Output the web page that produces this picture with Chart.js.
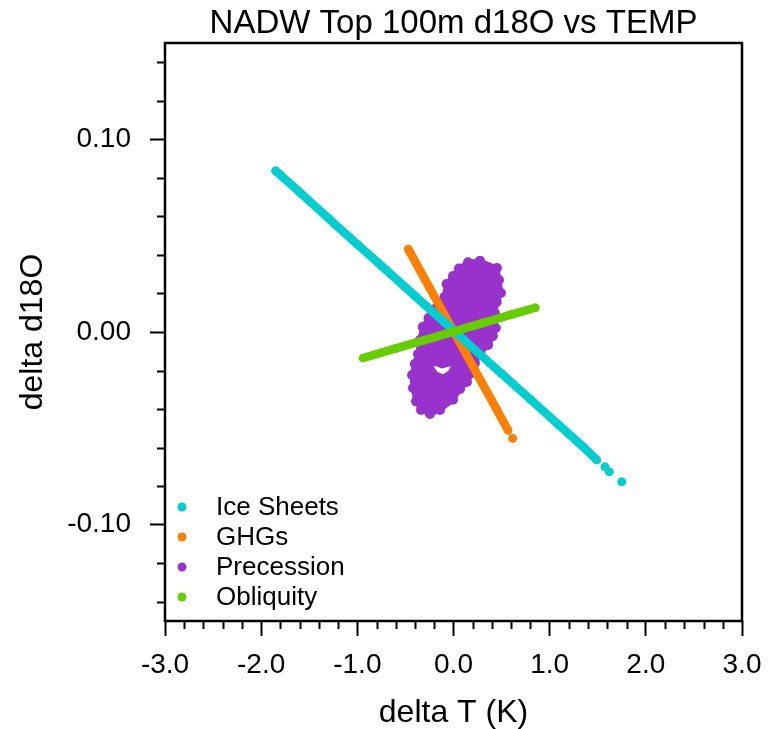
<!DOCTYPE html>
<html>
<head>
<meta charset="utf-8">
<title>NADW Top 100m d18O vs TEMP</title>
<script src="https://cdn.jsdelivr.net/npm/chart.js@4.4.1/dist/chart.umd.min.js"></script>
<style>
  html, body { margin: 0; padding: 0; background: #fff; }
  #wrap { width: 775px; height: 729px; }
</style>
</head>
<body>
<div id="wrap"><canvas id="chart" width="775" height="729"></canvas></div>
<script>
// values
const titleText = 'NADW Top 100m d18O vs TEMP';
const xTitle = 'delta T (K)';
const yTitle = 'delta d18O';

const seriesNames = ['Ice Sheets', 'GHGs', 'Precession', 'Obliquity'];
const seriesColors = ['#00CED1', '#FF7F00', '#9932CC', '#66CD00'];

// Ice Sheets (null = gap before the loose dots at the end)
const iceX = [-1.85, -1.60, -1.30, -1.00, -0.70, -0.40, -0.10, 0.20, 0.50, 0.80, 1.10, 1.35, 1.49, null, 1.575, null, 1.62, null, 1.75];
const iceY = [0.0837, 0.0726, 0.0590, 0.0455, 0.0322, 0.0187, 0.0053, -0.0082, -0.0216, -0.0350, -0.0485, -0.0597, -0.0664, null, -0.0700, null, -0.0725, null, -0.0777];

// GHGs
const ghgX = [-0.47, -0.30, -0.10, 0.10, 0.30, 0.45, 0.567, null, 0.615];
const ghgY = [0.0430, 0.0276, 0.0095, -0.0086, -0.0267, -0.0403, -0.0510, null, -0.0552];

// Precession cloud: outer edge, right side (top -> bottom -> lower left)
const preRightX = [0.275, 0.452, 0.473, 0.494, 0.450, 0.430, 0.440, 0.410, 0.360, 0.280, 0.223, 0.192, 0.140, 0.068, -0.005, -0.140,
                   -0.244, -0.338, -0.390, -0.421, -0.431, -0.400];
const preRightY = [0.0368, 0.0332, 0.0270, 0.0202, 0.0156, 0.0099, 0.0021, -0.0021, -0.0067, -0.0109, -0.0161, -0.0213, -0.0259, -0.0296, -0.0352, -0.0405,
                   -0.0425, -0.0405, -0.0360, -0.0291, -0.0223, -0.0166];
// white gap inside the lower lobe
const preHoleX = [-0.244, -0.182, -0.109, -0.036, 0.016, -0.047, -0.120, -0.192, -0.244];
const preHoleY = [-0.0176, -0.0218, -0.0234, -0.0213, -0.0166, -0.0166, -0.0176, -0.0161, -0.0176];
// outer edge, left side (back up to the top)
const preLeftX = [-0.400, -0.370, -0.350, -0.320, -0.260, -0.180, -0.095, -0.072, -0.005, 0.057, 0.151, 0.275];
const preLeftY = [-0.0166, -0.0114, -0.0042, 0.0026, 0.0073, 0.0125, 0.0182, 0.0249, 0.0291, 0.0330, 0.0362, 0.0368];

// Obliquity
const oblX = [-0.94, -0.60, -0.30, 0.00, 0.30, 0.60, 0.85];
const oblY = [-0.0135, -0.0085, -0.0042, 0.0002, 0.0046, 0.0090, 0.0126];

// axis ticks
const xMajor = [-3, -2, -1, 0, 1, 2, 3];
const yMajor = [-0.10, 0.00, 0.10];
const xMinorStep = 0.2;
const yMinorStep = 0.02;

const fontFamily = '"Liberation Sans", Arial, Helvetica, sans-serif';

function toPoints(xs, ys) {
    return xs.map((x, i) => ({ x: x, y: ys[i] }));
}

function lineSeries(i, xs, ys, order) {
    return {
        label: seriesNames[i],
        data: toPoints(xs, ys),
        showLine: true,
        borderColor: seriesColors[i],
        backgroundColor: seriesColors[i],
        borderWidth: 8.5,
        borderCapStyle: 'round',
        borderJoinStyle: 'round',
        pointRadius: 4.3,
        pointBorderWidth: 0,
        pointHoverRadius: 4.3,
        order: order
    };
}

// precession path: outer edge with the hole cut in through a slit
const prePoints = toPoints(preRightX, preRightY)
    .concat(toPoints(preHoleX, preHoleY))
    .concat(toPoints(preLeftX, preLeftY));
const holeStart = preRightX.length;
const holeEnd = holeStart + preHoleX.length - 1;

// minor ticks, frame, legend and title
const decorPlugin = {
    id: 'decor',
    afterDraw(chart) {
        const ctx = chart.ctx;
        const area = chart.chartArea;
        const xs = chart.scales.x;
        const ys = chart.scales.y;
        ctx.save();

        // minor ticks
        ctx.strokeStyle = '#000';
        ctx.lineWidth = 2;
        ctx.beginPath();
        for (let i = -14; i <= 14; i++) {
            if (i % 5 === 0) continue;
            const px = Math.round(xs.getPixelForValue(i * xMinorStep)) + 0.5;
            ctx.moveTo(px, area.bottom);
            ctx.lineTo(px, area.bottom + 8);
        }
        for (let i = -7; i <= 7; i++) {
            if (i % 5 === 0) continue;
            const py = Math.round(ys.getPixelForValue(i * yMinorStep)) + 0.5;
            ctx.moveTo(area.left, py);
            ctx.lineTo(area.left - 8, py);
        }
        ctx.stroke();

        // frame
        ctx.lineWidth = 2.5;
        ctx.strokeRect(area.left, area.top, area.right - area.left, area.bottom - area.top);

        // legend, lower left inside the frame
        ctx.font = '26px ' + fontFamily;
        ctx.textBaseline = 'middle';
        ctx.textAlign = 'left';
        chart.data.datasets.forEach((ds, i) => {
            const y = area.bottom - 114 + i * 30;
            ctx.fillStyle = seriesColors[i];
            ctx.beginPath();
            ctx.arc(area.left + 17, y, 4.5, 0, Math.PI * 2);
            ctx.fill();
            ctx.fillStyle = '#000';
            ctx.fillText(ds.label, area.left + 51, y + 1);
        });

        // title, centred over the plot
        ctx.font = '33px ' + fontFamily;
        ctx.textAlign = 'center';
        ctx.textBaseline = 'alphabetic';
        ctx.fillText(titleText, (area.left + area.right) / 2, 33);
        ctx.restore();
    }
};

const ctx = document.getElementById('chart').getContext('2d');
const chart = new Chart(ctx, {
    type: 'scatter',
    data: {
        datasets: [
            lineSeries(0, iceX, iceY, 1),
            lineSeries(1, ghgX, ghgY, 2),
            {
                label: seriesNames[2],
                data: prePoints,
                showLine: true,
                fill: 'shape',
                borderColor: seriesColors[2],
                backgroundColor: seriesColors[2],
                borderWidth: 5,
                borderJoinStyle: 'round',
                pointRadius: (c) => (c.dataIndex >= holeStart && c.dataIndex <= holeEnd) ? 0 : 5,
                pointBorderWidth: 0,
                pointHoverRadius: 0,
                order: 3
            },
            lineSeries(3, oblX, oblY, 0)
        ]
    },
    options: {
        responsive: false,
        animation: false,
        layout: { padding: { top: 43, right: 33, left: 0, bottom: 0 } },
        plugins: {
            legend: { display: false },
            tooltip: { enabled: false }
        },
        scales: {
            x: {
                type: 'linear',
                min: -3,
                max: 3,
                afterBuildTicks: (scale) => { scale.ticks = xMajor.map(v => ({ value: v })); },
                afterFit: (scale) => { scale.height = 108; },
                ticks: {
                    callback: (v) => Number(v).toFixed(1),
                    font: { family: fontFamily, size: 28 },
                    color: '#000',
                    padding: 12,
                    maxRotation: 0,
                    autoSkip: false
                },
                grid: { drawOnChartArea: false, tickLength: 15, tickWidth: 2, tickColor: '#000' },
                border: { display: false },
                title: {
                    display: true,
                    text: xTitle,
                    color: '#000',
                    font: { family: fontFamily, size: 32, lineHeight: 1 },
                    padding: { top: 0, bottom: 0 }
                }
            },
            y: {
                type: 'linear',
                min: -0.15,
                max: 0.15,
                afterBuildTicks: (scale) => { scale.ticks = yMajor.map(v => ({ value: v })); },
                afterFit: (scale) => { scale.width = 165; },
                ticks: {
                    callback: (v) => Number(v).toFixed(2),
                    font: { family: fontFamily, size: 28 },
                    color: '#000',
                    padding: 19,
                    autoSkip: false
                },
                grid: { drawOnChartArea: false, tickLength: 15, tickWidth: 2, tickColor: '#000' },
                border: { display: false },
                title: {
                    display: true,
                    text: yTitle,
                    color: '#000',
                    font: { family: fontFamily, size: 32, lineHeight: 1 },
                    padding: { top: 17, bottom: 0 }
                }
            }
        }
    },
    plugins: [decorPlugin]
});
</script>
</body>
</html>
